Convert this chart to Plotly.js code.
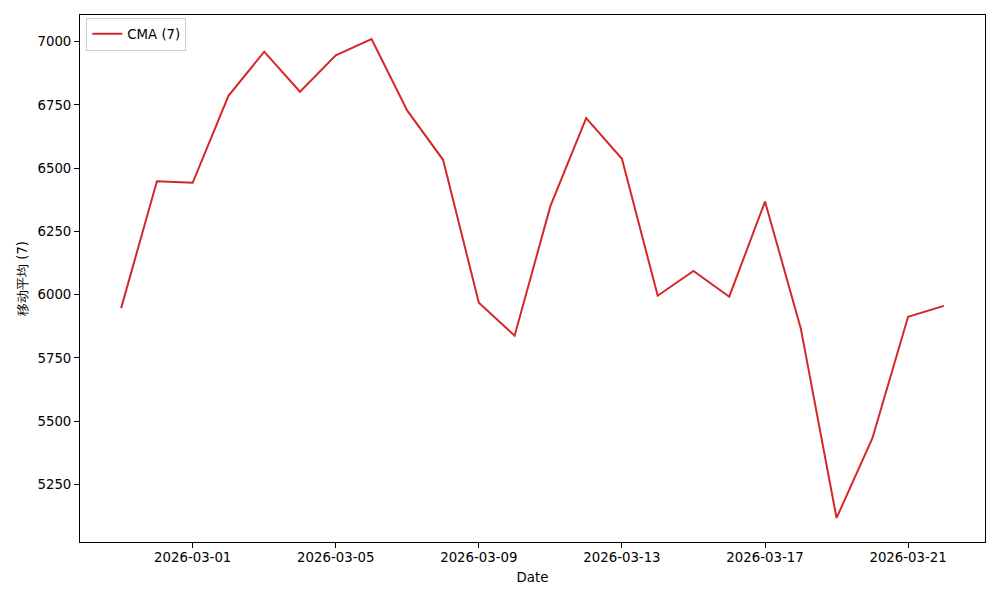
<!DOCTYPE html>
<html>
<head>
<meta charset="utf-8">
<script src="https://cdn.plot.ly/plotly-3.0.1.min.js"></script>
<style>html,body{margin:0;padding:0;background:#fff;}#chart{width:1000px;height:600px;}</style>
</head>
<body>
<div id="chart"></div>
<script>
const dates = ["2026-02-27","2026-02-28","2026-03-01","2026-03-02","2026-03-03","2026-03-04","2026-03-05","2026-03-06","2026-03-07","2026-03-08","2026-03-09","2026-03-10","2026-03-11","2026-03-12","2026-03-13","2026-03-14","2026-03-15","2026-03-16","2026-03-17","2026-03-18","2026-03-19","2026-03-20","2026-03-21","2026-03-22"];
const cmaValues = [5947, 6448, 6442, 6786, 6960, 6802, 6946, 7010, 6727, 6533, 5968, 5838, 6350, 6698, 6537, 5996, 6094, 5992, 6368, 5867, 5118, 5432, 5913, 5956];
const xTickVals = ["2026-03-01","2026-03-05","2026-03-09","2026-03-13","2026-03-17","2026-03-21"];
const yTickVals = [5250, 5500, 5750, 6000, 6250, 6500, 6750, 7000];
const seriesName = "CMA (7)";
const xTitle = "Date";
const yTitle = "移动平均 (7)";

const font = {family: "DejaVu Sans, sans-serif", size: 13.3, color: "#000"};
const trace = {
  x: dates, y: cmaValues, type: "scatter", mode: "lines", name: seriesName,
  line: {color: "#d62728", width: 2}
};
const layout = {
  width: 1000, height: 600,
  margin: {l: 80, r: 15, t: 15, b: 58},
  paper_bgcolor: "#fff", plot_bgcolor: "#fff",
  font: font,
  showlegend: true,
  legend: {x: 0.007, y: 0.995, xanchor: "left", yanchor: "top", bgcolor: "rgba(255,255,255,0.8)", bordercolor: "#cccccc", borderwidth: 1, font: font},
  xaxis: {
    type: "date",
    range: ["2026-02-25 20:24", "2026-03-23 03:36"],
    tickvals: xTickVals, tickformat: "%Y-%m-%d",
    ticks: "outside", ticklen: 5, tickcolor: "#000",
    showline: true, linecolor: "#000", linewidth: 1, mirror: true,
    showgrid: false, zeroline: false,
    ticklabelstandoff: -2,
    title: {text: xTitle, font: font, standoff: 8}
  },
  yaxis: {
    range: [5023, 7105],
    tickvals: yTickVals,
    ticks: "outside", ticklen: 5, tickcolor: "#000",
    showline: true, linecolor: "#000", linewidth: 1, mirror: true,
    showgrid: false, zeroline: false,
    title: {text: yTitle, font: font, standoff: 6}
  }
};
Plotly.newPlot("chart", [trace], layout, {displayModeBar: false, staticPlot: true});
</script>
</body>
</html>
